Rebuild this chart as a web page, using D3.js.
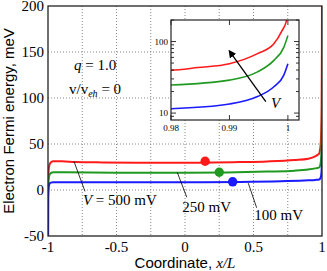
<!DOCTYPE html>
<html>
<head>
<meta charset="utf-8">
<script src="https://cdn.jsdelivr.net/npm/d3@7"></script>
<style>
body { margin: 0; background: #fff; }
svg { display: block; }
</style>
</head>
<body>
<div id="wrapper"></div>
<script>
// curves: electron Fermi energy (meV) vs x/L for V = 500, 250, 100 mV
const redX = [-1, -0.999, -0.995, -0.99, -0.98, -0.96, -0.9, -0.8, -0.6, -0.3, 0, 0.2, 0.4, 0.6, 0.8, 0.9, 0.95, 0.97, 0.98, 0.9846, 0.99, 0.9948, 0.9976, 0.999, 0.99976, 1];
const redY = [-100, 10, 22, 27, 30, 31.3, 31.2, 30.5, 30, 29.7, 29.6, 29.8, 30.3, 31, 32.5, 34, 36.5, 38.5, 39.7, 43.3, 49, 67.7, 93, 142, 196, 260];
const greenX = [-1, -0.999, -0.995, -0.99, -0.98, -0.96, -0.9, -0.5, 0, 0.3, 0.6, 0.8, 0.9, 0.95, 0.98, 0.99, 0.9948, 0.9976, 0.9993, 1];
const greenY = [-100, 2, 12, 16, 18.3, 19.3, 19.3, 18.8, 18.7, 19, 20, 21, 22.3, 23.5, 24.7, 28.9, 37.6, 54.6, 83, 121];
const blueX = [-1, -0.999, -0.995, -0.99, -0.98, -0.96, -0.5, 0, 0.4, 0.7, 0.9, 0.95, 0.98, 0.99, 0.9948, 0.9976, 0.9993, 1];
const blueY = [-100, -8, 3, 6.5, 8, 8.5, 8.5, 8.5, 8.8, 9.5, 10.5, 11, 11.5, 13.4, 17, 23.3, 33.9, 49];
const seriesColors = ["#ff1a1a", "#1f991f", "#1a1aff"];

const dotX = [0.147, 0.25, 0.348];
const dotY = [31.3, 19.3, 8.9];

const xTicks = [-1, -0.5, 0, 0.5, 1];
const xGrid = [-0.75, -0.5, -0.25, 0, 0.25, 0.5, 0.75];
const yTicks = [-50, 0, 50, 100, 150, 200];
const yGrid = [0, 50, 100, 150];

const insetXTicks = [0.98, 0.99, 1];
const insetYTicks = [10, 100];

// leader lines: [x1, y1, x2, y2] in data units, label text + anchor
const leaderLines = [[-0.81, 31, -0.73, -1.5], [-0.056, 19, 0.013, -7.8], [0.462, 7.4, 0.523, -19.3]];
const voltLabels = ["500 mV", "250 mV", "100 mV"];
const voltLabelX = [-0.745, -0.02, 0.506];
const voltLabelY = [-16.3, -23.6, -32.6];

const serif = "'Liberation Serif', 'Times New Roman', serif";
const sans = "'Liberation Sans', Arial, sans-serif";

const width = 327, height = 271;
const plot = {left: 48, right: 322, top: 6, bottom: 236};

const svg = d3.select("#wrapper").append("svg")
  .attr("width", width)
  .attr("height", height);

const xScale = d3.scaleLinear().domain([-1, 1]).range([plot.left, plot.right]);
const yScale = d3.scaleLinear().domain([-50, 200]).range([plot.bottom, plot.top]);

// grid
svg.append("g").selectAll("line").data(xGrid).join("line")
  .attr("x1", d => xScale(d)).attr("x2", d => xScale(d))
  .attr("y1", plot.top).attr("y2", plot.bottom)
  .attr("stroke", "#888").attr("stroke-width", 1).attr("stroke-dasharray", "1,2");
svg.append("g").selectAll("line").data(yGrid).join("line")
  .attr("x1", plot.left).attr("x2", plot.right)
  .attr("y1", d => yScale(d)).attr("y2", d => yScale(d))
  .attr("stroke", "#888").attr("stroke-width", 1).attr("stroke-dasharray", "1,2");

// tick labels
svg.append("g").selectAll("text").data(xTicks).join("text")
  .attr("x", d => xScale(d)).attr("y", 252)
  .attr("text-anchor", "middle")
  .style("font", `15px ${serif}`)
  .text(d => d === 0 ? "0" : String(d));
svg.append("g").selectAll("text").data(yTicks).join("text")
  .attr("x", 44).attr("y", d => yScale(d) + 5)
  .attr("text-anchor", "end")
  .style("font", `15px ${serif}`)
  .text(d => String(d));

// axis titles
svg.append("text")
  .attr("transform", `translate(14,${(plot.top + plot.bottom) / 2}) rotate(-90)`)
  .attr("text-anchor", "middle")
  .style("font", `15px ${sans}`)
  .text("Electron Fermi energy, meV");
const xTitle = svg.append("text")
  .attr("x", (plot.left + plot.right) / 2).attr("y", 268)
  .attr("text-anchor", "middle")
  .style("font", `15px ${sans}`);
xTitle.append("tspan").text("Coordinate, ");
xTitle.append("tspan").style("font", `italic 15px ${serif}`).text("x/L");

// parameter text
const qText = svg.append("text").attr("x", 74).attr("y", 70).style("font", `15px ${serif}`);
qText.append("tspan").style("font-style", "italic").text("q");
qText.append("tspan").text(" = 1.0");
const vText = svg.append("text").attr("x", 69).attr("y", 94).style("font", `15px ${serif}`);
vText.append("tspan").text("v/v");
vText.append("tspan").attr("dy", 3).style("font", `italic 10px ${serif}`).text("eh");
vText.append("tspan").attr("dy", -3).text(" = 0");

// curves
svg.append("defs").append("clipPath").attr("id", "mainClip")
  .append("rect").attr("x", plot.left).attr("y", plot.top)
  .attr("width", plot.right - plot.left).attr("height", plot.bottom - plot.top);

const series = [[redX, redY], [greenX, greenY], [blueX, blueY]]
  .map(([xs, ys]) => xs.map((x, i) => ({x: x, y: ys[i]})));

const lineGenerator = d3.line()
  .x(d => xScale(d.x))
  .y(d => yScale(d.y))
  .curve(d3.curveMonotoneX);

const curves = svg.append("g").attr("clip-path", "url(#mainClip)");
series.forEach((s, i) => {
  curves.append("path")
    .attr("d", lineGenerator(s))
    .attr("fill", "none")
    .attr("stroke", seriesColors[i])
    .attr("stroke-width", 2);
});

// leader lines + labels
svg.append("g").selectAll("line").data(leaderLines).join("line")
  .attr("x1", d => xScale(d[0])).attr("y1", d => yScale(d[1]))
  .attr("x2", d => xScale(d[2])).attr("y2", d => yScale(d[3]))
  .attr("stroke", "#000").attr("stroke-width", 0.8);
voltLabels.forEach((t, i) => {
  const txt = svg.append("text")
    .attr("x", xScale(voltLabelX[i])).attr("y", yScale(voltLabelY[i]))
    .style("font", `15px ${serif}`);
  if (i === 0) {
    txt.append("tspan").style("font-style", "italic").text("V");
    txt.append("tspan").text(" = " + t);
  } else {
    txt.text(t);
  }
});

// dots
svg.append("g").selectAll("circle").data(dotX).join("circle")
  .attr("cx", d => xScale(d))
  .attr("cy", (d, i) => yScale(dotY[i]))
  .attr("r", 4.7)
  .attr("fill", (d, i) => seriesColors[i]);

// frame
svg.append("rect")
  .attr("x", plot.left).attr("y", plot.top)
  .attr("width", plot.right - plot.left).attr("height", plot.bottom - plot.top)
  .attr("fill", "none").attr("stroke", "#222").attr("stroke-width", 1.3);

// inset
const inset = {left: 171, right: 299, top: 20, bottom: 120};
const ixScale = d3.scaleLinear().domain([0.98, 1.0019]).range([inset.left, inset.right]);
const iyScale = d3.scaleLog().domain([8, 200]).range([inset.bottom, inset.top]);

svg.append("rect")
  .attr("x", inset.left).attr("y", inset.top)
  .attr("width", inset.right - inset.left).attr("height", inset.bottom - inset.top)
  .attr("fill", "#fff");

svg.select("defs").append("clipPath").attr("id", "insetClip")
  .append("rect").attr("x", inset.left).attr("y", inset.top)
  .attr("width", inset.right - inset.left).attr("height", inset.bottom - inset.top);

const insetLine = d3.line()
  .x(d => ixScale(d.x))
  .y(d => iyScale(d.y))
  .curve(d3.curveMonotoneX);

const insetCurves = svg.append("g").attr("clip-path", "url(#insetClip)");
series.forEach((s, i) => {
  insetCurves.append("path")
    .attr("d", insetLine(s.filter(d => d.x >= 0.97)))
    .attr("fill", "none")
    .attr("stroke", seriesColors[i])
    .attr("stroke-width", 1.6);
});

// inset ticks
const minorY = [9, 20, 30, 40, 50, 60, 70, 80, 90, 200];
const itick = svg.append("g").attr("stroke", "#000").attr("stroke-width", 0.8);
[inset.left, inset.right].forEach((xx, k) => {
  const dir = k === 0 ? 1 : -1;
  itick.append("g").selectAll("line").data(insetYTicks).join("line")
    .attr("x1", xx).attr("x2", xx + dir * 5)
    .attr("y1", d => iyScale(d)).attr("y2", d => iyScale(d));
  itick.append("g").selectAll("line").data(minorY).join("line")
    .attr("x1", xx).attr("x2", xx + dir * 3)
    .attr("y1", d => iyScale(d)).attr("y2", d => iyScale(d));
});
[inset.bottom, inset.top].forEach((yy, k) => {
  const dir = k === 0 ? -1 : 1;
  itick.append("g").selectAll("line").data(insetXTicks).join("line")
    .attr("x1", d => ixScale(d)).attr("x2", d => ixScale(d))
    .attr("y1", yy).attr("y2", yy + dir * 5);
});

svg.append("rect")
  .attr("x", inset.left).attr("y", inset.top)
  .attr("width", inset.right - inset.left).attr("height", inset.bottom - inset.top)
  .attr("fill", "none").attr("stroke", "#222").attr("stroke-width", 1.2);

svg.append("g").selectAll("text").data(insetYTicks).join("text")
  .attr("x", inset.left - 3).attr("y", d => iyScale(d) + 3)
  .attr("text-anchor", "end")
  .style("font", `9px ${serif}`)
  .text(d => String(d));
svg.append("g").selectAll("text").data(insetXTicks).join("text")
  .attr("x", d => ixScale(d)).attr("y", inset.bottom + 11)
  .attr("text-anchor", "middle")
  .style("font", `9px ${serif}`)
  .text(d => String(d));

// arrow showing increasing V
svg.select("defs").append("marker")
  .attr("id", "arrowHead")
  .attr("viewBox", "0 0 10 10")
  .attr("refX", 8).attr("refY", 5)
  .attr("markerWidth", 6).attr("markerHeight", 6)
  .attr("orient", "auto")
  .append("path").attr("d", "M0,0 L10,5 L0,10 z").attr("fill", "#000");
svg.append("line")
  .attr("x1", ixScale(0.99622)).attr("y1", iyScale(14.5))
  .attr("x2", ixScale(0.99)).attr("y2", iyScale(73.5))
  .attr("stroke", "#000").attr("stroke-width", 1.3)
  .attr("marker-end", "url(#arrowHead)");
svg.append("text")
  .attr("x", 271).attr("y", 108)
  .style("font", `italic 15px ${serif}`)
  .text("V");
</script>
</body>
</html>
